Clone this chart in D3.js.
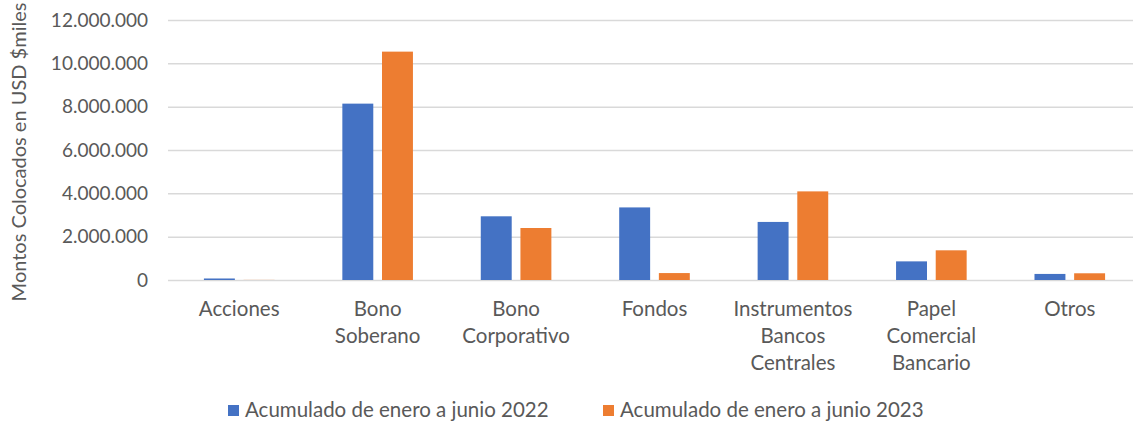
<!DOCTYPE html>
<html>
<head>
<meta charset="utf-8">
<script src="https://cdn.jsdelivr.net/npm/d3@7"></script>
<style>
  body { margin: 0; background: #fff; }
  text { font-family: Lato, "Open Sans", sans-serif; fill: #595959; }
</style>
</head>
<body>
<svg id="chart"></svg>
<script>
const categories = [
  ['Acciones'],
  ['Bono', 'Soberano'],
  ['Bono', 'Corporativo'],
  ['Fondos'],
  ['Instrumentos', 'Bancos', 'Centrales'],
  ['Papel', 'Comercial', 'Bancario'],
  ['Otros']
];
const seriesNames = ['Acumulado de enero a junio 2022', 'Acumulado de enero a junio 2023'];
const values2022 = [70000, 8140000, 2940000, 3350000, 2680000, 860000, 280000];
const values2023 = [5000, 10540000, 2400000, 320000, 4090000, 1370000, 310000];
const yTicks = [0, 2000000, 4000000, 6000000, 8000000, 10000000, 12000000];
const colors = ['#4472C4', '#ED7D31'];

const width = 1133, height = 424;
const svg = d3.select('#chart').attr('width', width).attr('height', height);

const keys = categories.map(c => c.join(' '));
const rows = keys.map((k, i) => ({ key: k, vals: [values2022[i], values2023[i]] }));

// Scales
const x0 = d3.scaleBand().domain(keys).range([170, 1139])
  .paddingInner(0.49).paddingOuter(0.245);
const x1 = d3.scaleBand().domain([0, 1]).range([0, x0.bandwidth()]).paddingInner(0.22);
const y = d3.scaleLinear().domain([0, 12000000]).range([280, 20]);

const fmt = v => d3.format(',')(v).replace(/,/g, '.');

// Grid + y axis labels
const yAxis = svg.append('g')
  .attr('transform', 'translate(168,0)')
  .call(d3.axisLeft(y).tickValues(yTicks).tickSize(-(width - 168)).tickPadding(20).tickFormat(fmt));
yAxis.select('.domain').remove();
yAxis.selectAll('line').attr('stroke', '#d9d9d9').attr('stroke-width', 1.5);
yAxis.selectAll('text').attr('font-size', 19).style('font-family', 'Lato, sans-serif').attr('fill', '#595959');

// Bars
const groups = svg.append('g').selectAll('g').data(rows).join('g')
  .attr('transform', d => `translate(${x0(d.key)},0)`);
groups.selectAll('rect').data(d => d.vals.map((v, i) => ({ v, i }))).join('rect')
  .attr('x', d => x1(d.i))
  .attr('width', x1.bandwidth())
  .attr('y', d => y(d.v))
  .attr('height', d => y(0) - y(d.v))
  .attr('fill', d => colors[d.i]);

// Category labels
const catLabels = svg.append('g').selectAll('text').data(categories).join('text')
  .attr('x', (d, i) => x0(keys[i]) + x0.bandwidth() / 2)
  .attr('y', 316)
  .attr('text-anchor', 'middle')
  .attr('font-size', 20.5);
catLabels.selectAll('tspan').data(d => d).join('tspan')
  .attr('x', function () { return this.parentNode.getAttribute('x'); })
  .attr('dy', (d, i) => i === 0 ? 0 : 27)
  .text(d => d);

// Y axis title
svg.append('text')
  .attr('transform', 'translate(26,152) rotate(-90)')
  .attr('text-anchor', 'middle')
  .attr('font-size', 20)
  .text('Montos Colocados en USD $miles');

// Legend
const legendX = [228, 603];
const legend = svg.append('g').selectAll('g').data(seriesNames).join('g')
  .attr('transform', (d, i) => `translate(${legendX[i]},417)`);
legend.append('rect').attr('x', 0).attr('y', -12).attr('width', 11).attr('height', 11)
  .attr('fill', (d, i) => colors[i]);
legend.append('text').attr('x', 17).attr('y', 0).attr('font-size', 20.5).text(d => d);
</script>
</body>
</html>
